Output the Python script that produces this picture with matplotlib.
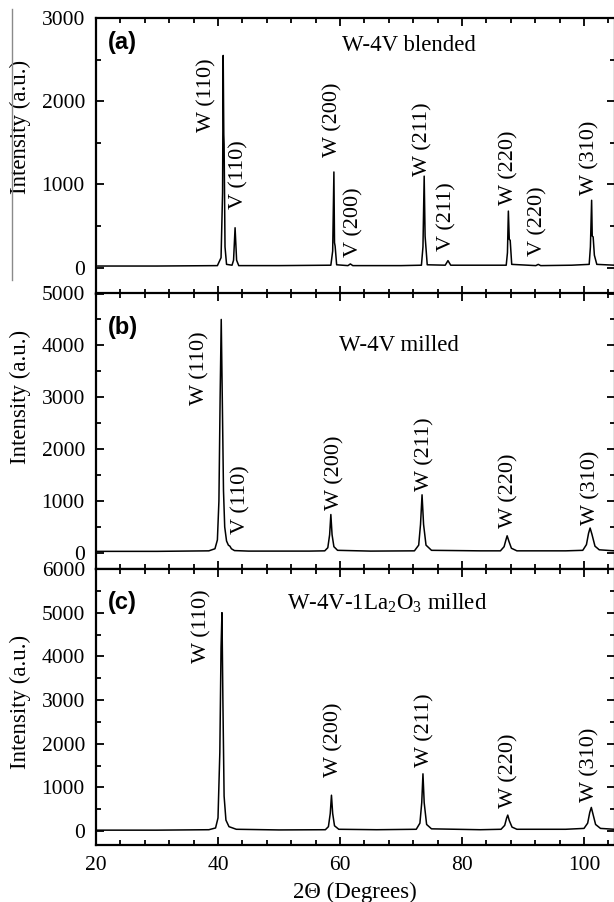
import matplotlib
matplotlib.use("Agg")
import matplotlib.pyplot as plt
from matplotlib.ticker import MultipleLocator
from matplotlib.lines import Line2D

plt.rcParams['font.family'] = ['Liberation Serif', 'DejaVu Serif']
plt.rcParams['mathtext.fontset'] = 'custom'
plt.rcParams['mathtext.rm'] = 'Liberation Serif'
plt.rcParams['mathtext.it'] = 'Liberation Serif:italic'

# ---------------- data ----------------
a_x = [20.3, 30, 39.9, 40.5, 40.75, 40.85, 40.95, 41.0, 41.15, 41.4, 42.3, 42.55, 42.8, 43.05, 43.4,
       50, 58.5, 58.8, 59.0, 59.1, 59.2, 59.45, 61.3, 61.7, 62.1, 70, 73.35, 73.6, 73.8, 73.95, 74.3,
       77.25, 77.7, 78.15, 84, 87.25, 87.45, 87.6, 87.75, 87.9, 88.15, 92.1, 92.5, 92.9, 98,
       100.85, 101.05, 101.25, 101.35, 101.5, 101.7, 102.1, 105]
a_y = [20, 20, 25, 120, 900, 2550, 1600, 1480, 250, 40, 30, 90, 480, 90, 25,
       25, 30, 200, 1150, 300, 260, 35, 25, 45, 25, 25, 30, 250, 1100, 380, 35,
       30, 85, 30, 30, 30, 180, 680, 340, 330, 40, 25, 40, 25, 30,
       40, 250, 810, 380, 370, 150, 40, 30]

b_x = [20, 30, 38.5, 39.5, 39.9, 40.15, 40.35, 40.53, 40.7, 40.9, 41.1, 41.4, 41.7, 41.95, 42.2,
       42.7, 45, 55, 57.5, 58.0, 58.3, 58.5, 58.7, 59.0, 59.6, 65, 72.2, 72.9, 73.2, 73.45,
       73.7, 74.1, 75.0, 83, 86.3, 86.9, 87.2, 87.4, 87.7, 88.1, 89.0, 97, 99.8, 100.4, 100.75,
       101.0, 101.3, 101.8, 102.5, 105]
b_y = [30, 30, 40, 80, 250, 1000, 3000, 4500, 3000, 1200, 500, 230, 150, 130, 80,
       45, 35, 35, 40, 100, 350, 740, 350, 120, 50, 35, 40, 150, 550, 1120,
       550, 150, 50, 40, 40, 120, 250, 330, 220, 90, 40, 40, 50, 160, 380,
       480, 360, 130, 60, 40]

c_x = [20, 30, 38.5, 39.6, 40.0, 40.3, 40.5, 40.65, 40.8, 41.0, 41.3, 41.8, 43, 50, 57.6,
       58.1, 58.4, 58.6, 58.8, 59.1, 59.8, 66, 72.5, 73.1, 73.4, 73.6, 73.8, 74.2, 75.0, 83,
       86.4, 87.0, 87.3, 87.5, 87.75, 88.2, 89.0, 97, 100.0, 100.6, 100.95, 101.2, 101.45, 101.9,
       102.7, 105]
c_y = [20, 20, 30, 70, 300, 1800, 4200, 5000, 3000, 800, 250, 100, 40, 25, 30,
       100, 400, 820, 400, 120, 40, 30, 40, 180, 650, 1310, 650, 150, 50, 30,
       40, 130, 290, 365, 240, 90, 40, 40, 60, 180, 430, 540, 400, 150,
       60, 40]

a_lab = ["W (110)", "V (110)", "W (200)", "V (200)", "W (211)", "V (211)", "W (220)", "V (220)", "W (310)"]
a_lab_x = [38.1, 43.4, 58.8, 62.35, 73.6, 77.45, 87.7, 92.4, 100.9]
a_lab_y = [1625, 704, 1332, 132, 1104, 204, 756, 144, 876]

b_lab = ["W (110)", "V (110)", "W (200)", "W (211)", "W (220)", "W (310)"]
b_lab_x = [37.1, 43.7, 59.1, 73.9, 87.7, 101.05]
b_lab_y = [2860, 367, 830, 1186, 477, 541]

c_lab = ["W (110)", "W (200)", "W (211)", "W (220)", "W (310)"]
c_lab_x = [37.3, 58.95, 73.9, 87.6, 100.9]
c_lab_y = [3845, 1245, 1475, 520, 672]

panel_tags = ["(a)", "(b)", "(c)"]
sample_names = ["W-4V blended", "W-4V milled", "W-4V-1La$_2$O$_3$ milled"]
sample_x = [71.3, 69.7, 67.8]
sample_y = [2665, 3990, 5220]
y_max = [3000, 5000, 6000]
y_min = [-310, -310, -320]
x_ticks = [20, 40, 60, 80, 100]

# ---------------- layout ----------------
W, H = 614, 902
fig = plt.figure(figsize=(W / 100, H / 100), dpi=100)

left = 96 / W
width = 518.5 / W
bounds = [(18, 293.5), (293.5, 569), (569, 845)]
tag_y = [0.91, 0.875, 0.88]
ylab_y = [0.603, 0.624, 0.518]

series = [(a_x, a_y, a_lab, a_lab_x, a_lab_y),
          (b_x, b_y, b_lab, b_lab_x, b_lab_y),
          (c_x, c_y, c_lab, c_lab_x, c_lab_y)]

axes = []
for i, ((top, bot), (xs, ys, labs, lx, ly)) in enumerate(zip(bounds, series)):
    ax = fig.add_axes([left, 1 - bot / H, width, (bot - top) / H])
    axes.append(ax)
    ax.plot(xs, ys, color='black', lw=1.1)
    ax.set_xlim(20, 105)
    ax.set_ylim(y_min[i], y_max[i])
    ax.xaxis.set_major_locator(MultipleLocator(20))
    ax.xaxis.set_minor_locator(MultipleLocator(4))
    ax.yaxis.set_major_locator(MultipleLocator(1000))
    ax.yaxis.set_minor_locator(MultipleLocator(500))
    ax.tick_params(which='both', direction='in', top=True, right=True, width=1.3,
                   labelsize=15.5)
    ax.tick_params(which='major', length=6, pad=8)
    ax.tick_params(which='minor', length=3.5)
    for s in ax.spines.values():
        s.set_linewidth(1.6)
    if i < 2:
        ax.tick_params(labelbottom=False)
    else:
        ax.set_xticks(x_ticks)
        ax.set_xlabel("2\u0398 (Degrees)", fontsize=16.5, labelpad=5)
    ax.set_ylabel("Intensity (a.u.)", fontsize=16.5)
    ax.yaxis.set_label_coords((31 - 96) / 518.5, ylab_y[i])

    for t, x, y in zip(labs, lx, ly):
        ax.text(x, y, t, rotation=90, ha='center', va='bottom', fontsize=16)
    ax.text(sample_x[i], sample_y[i], sample_names[i], ha='center', va='center', fontsize=16.5)
    ax.text(0.023, tag_y[i], panel_tags[i], transform=ax.transAxes, ha='left', va='center',
            fontsize=17, fontweight='bold', family=['Liberation Sans', 'DejaVu Sans'])

# scan artefact: thin gray vertical line at far left of the top panel
fig.add_artist(Line2D([12 / W, 12 / W], [1 - 9 / H, 1 - 280 / H], color='#8a8a8a', lw=1.0))

fig.savefig("out.png", dpi=100)
